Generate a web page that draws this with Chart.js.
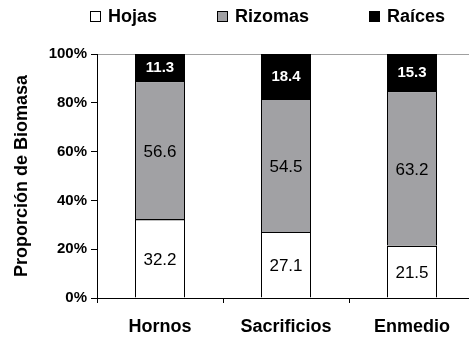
<!DOCTYPE html>
<html>
<head>
<meta charset="utf-8">
<script src="https://cdn.jsdelivr.net/npm/chart.js@4/dist/chart.umd.min.js"></script>
<style>
  html, body { margin: 0; padding: 0; background: #fff; overflow: hidden; }
  #wrap { width: 475px; height: 343px; }
</style>
</head>
<body>
<div id="wrap"><canvas id="chart" width="475" height="343"></canvas></div>
<script>
// data
const sites    = ['Hornos', 'Sacrificios', 'Enmedio'];
const hojas    = [32.2, 27.1, 21.5];
const rizomas  = [56.6, 54.5, 63.2];
const raices   = [11.3, 18.4, 15.3];
const yTicks   = [0, 20, 40, 60, 80, 100];

const FONT = '"Liberation Sans", Arial, sans-serif';

//-----------------------------------------------------------------------------
// legend across the top, drawn by hand so it can sit off-centre like the original
//-----------------------------------------------------------------------------
const topLegend = {
    id: 'topLegend',
    afterDraw(chart) {
        const ctx = chart.ctx;
        const box = 11, gap = 7, spacing = 60, midY = 16;
        ctx.save();
        ctx.font = 'bold 18px ' + FONT;
        ctx.textBaseline = 'middle';
        ctx.textAlign = 'left';
        const sets = chart.data.datasets;
        const widths = sets.map(ds => box + gap + ctx.measureText(ds.label).width);
        const total = widths.reduce((a, b) => a + b, 0) + spacing * (sets.length - 1);
        let x = Math.round(268 - total / 2);
        sets.forEach((ds, i) => {
            const bx = Math.round(x);
            ctx.fillStyle = ds.backgroundColor;
            ctx.fillRect(bx, midY - 5, box, box);
            ctx.strokeStyle = '#000';
            ctx.lineWidth = 1;
            ctx.strokeRect(bx + 0.5, midY - 5 + 0.5, box - 1, box - 1);
            ctx.fillStyle = '#000';
            ctx.fillText(ds.label, bx + box + gap, midY + 1);
            x += widths[i] + spacing;
        });
        ctx.restore();
    }
};

//-----------------------------------------------------------------------------
// a crisp line on top of every segment, then the value in its middle
//-----------------------------------------------------------------------------
const segmentLabels = {
    id: 'segmentLabels',
    afterDatasetsDraw(chart) {
        const ctx = chart.ctx;
        ctx.save();
        ctx.textAlign = 'center';
        ctx.textBaseline = 'middle';
        chart.data.datasets.forEach((ds, di) => {
            const meta = chart.getDatasetMeta(di);
            const dark = ds.backgroundColor === '#000000';
            meta.data.forEach((bar, i) => {
                // separator line (chart.js leaves these faint on fractional pixels)
                ctx.fillStyle = '#000000';
                ctx.fillRect(bar.x - bar.width / 2, Math.round(bar.y), bar.width, 1);

                ctx.font = (dark ? 'bold 15px ' : '17px ') + FONT;
                ctx.fillStyle = dark ? '#ffffff' : '#000000';
                const midY = (bar.y + bar.base) / 2 + (dark ? 0 : 2);
                ctx.fillText(ds.data[i].toFixed(1), bar.x, midY);
            });
        });
        ctx.restore();
    }
};

const ctx = document.getElementById('chart').getContext('2d');
new Chart(ctx, {
    type: 'bar',
    data: {
        labels: sites,
        datasets: [
            { label: 'Hojas',   data: hojas,   backgroundColor: '#ffffff' },
            { label: 'Rizomas', data: rizomas, backgroundColor: '#a1a1a4' },
            { label: 'Raíces',  data: raices,  backgroundColor: '#000000' }
        ]
    },
    options: {
        responsive: false,
        animation: false,
        datasets: {
            bar: {
                barThickness: 50,
                borderColor: '#000000',
                borderWidth: { top: 1, left: 1, right: 1, bottom: 0 },
                borderSkipped: false,
                inflateAmount: 0
            }
        },
        layout: { padding: { top: 54, right: 0, left: 0, bottom: 0 } },
        plugins: {
            legend: { display: false },
            tooltip: { enabled: false }
        },
        scales: {
            x: {
                stacked: true,
                border: { display: true, color: '#000', width: 1 },
                grid: {
                    offset: true,
                    drawOnChartArea: false,
                    tickLength: 5,
                    tickColor: '#000'
                },
                ticks: {
                    color: '#000',
                    padding: 13,
                    font: { family: FONT, size: 18, weight: 'bold' }
                },
                afterFit: scale => { scale.height = 45; }
            },
            y: {
                stacked: true,
                min: 0,
                max: 100,
                afterBuildTicks: scale => { scale.ticks = yTicks.map(v => ({ value: v })); },
                border: { display: true, color: '#000', width: 1 },
                grid: {
                    color: c => c.tick && c.tick.value === 100 ? '#a0a0a0' : 'rgba(0,0,0,0)',
                    tickLength: 6,
                    tickColor: '#000'
                },
                ticks: {
                    color: '#000',
                    padding: 4,
                    font: { family: FONT, size: 15, weight: 'bold' },
                    callback: v => v + '%'
                },
                title: {
                    display: true,
                    text: 'Proporción de Biomasa',
                    color: '#000',
                    padding: { top: 11, bottom: 0 },
                    font: { family: FONT, size: 18, weight: 'bold' }
                },
                afterFit: scale => { scale.width = 97; }
            }
        }
    },
    plugins: [topLegend, segmentLabels]
});
</script>
</body>
</html>
